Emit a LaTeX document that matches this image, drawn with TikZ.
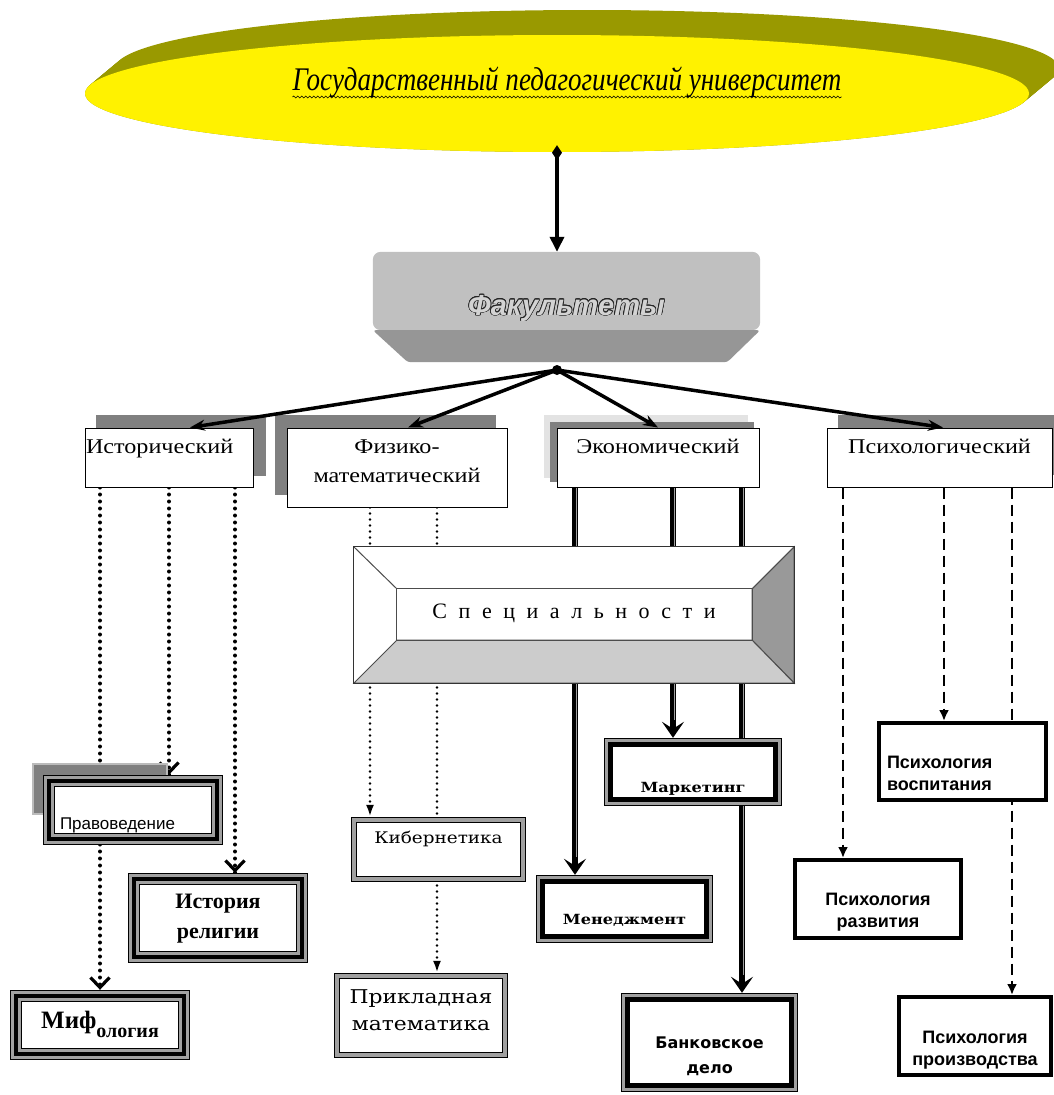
\documentclass[tikz,border=0pt]{standalone}
\usepackage{fontspec}
\setmainfont{Liberation Serif}
\newfontfamily\sansf{Liberation Sans}
\newfontfamily\facf[FakeStretch=1.15]{Liberation Serif}
\newfontfamily\slabf[FakeStretch=1.15]{DejaVu Serif}
\newfontfamily\geof{DejaVu Sans}
\newfontfamily\titlef[FakeStretch=0.82]{Liberation Serif}
\newfontfamily\specf[WordSpace=2.1]{Liberation Serif}
\usepackage{contour}
\contourlength{0.7pt}
\usetikzlibrary{arrows.meta,shapes.geometric,decorations.pathmorphing,decorations.markings}
\pgfdeclarelayer{back}\pgfdeclarelayer{bg}\pgfdeclarelayer{mid}
\pgfsetlayers{back,bg,mid,main}
\definecolor{olv}{HTML}{999900}
\definecolor{shd}{HTML}{808080}
\definecolor{lshd}{HTML}{E3E3E3}
\definecolor{facg}{HTML}{C0C0C0}
\definecolor{facd}{HTML}{969696}
\definecolor{frg}{HTML}{A0A0A0}
\definecolor{bevr}{HTML}{999999}
\definecolor{bevb}{HTML}{CCCCCC}
\newcommand\tframe[1]{%
 \draw[frg,line width=12pt] ([shift={(6pt,-6pt)}]#1.north west) rectangle ([shift={(-6pt,6pt)}]#1.south east);
 \draw[black,line width=4pt] ([shift={(6pt,-6pt)}]#1.north west) rectangle ([shift={(-6pt,6pt)}]#1.south east);
 \draw[black,line width=1pt] ([shift={(.5pt,-.5pt)}]#1.north west) rectangle ([shift={(-.5pt,.5pt)}]#1.south east);
 \draw[black,line width=1pt] ([shift={(11.5pt,-11.5pt)}]#1.north west) rectangle ([shift={(-11.5pt,11.5pt)}]#1.south east);}
\newcommand\dframe[1]{%
 \draw[frg,line width=6pt] ([shift={(3pt,-3pt)}]#1.north west) rectangle ([shift={(-3pt,3pt)}]#1.south east);
 \draw[black,line width=1pt] ([shift={(.5pt,-.5pt)}]#1.north west) rectangle ([shift={(-.5pt,.5pt)}]#1.south east);
 \draw[black,line width=1pt] ([shift={(5.5pt,-5.5pt)}]#1.north west) rectangle ([shift={(-5.5pt,5.5pt)}]#1.south east);}
\newcommand\mframe[1]{%
 \draw[frg,line width=9pt] ([shift={(4.5pt,-4.5pt)}]#1.north west) rectangle ([shift={(-4.5pt,4.5pt)}]#1.south east);
 \draw[black,line width=5pt] ([shift={(6.5pt,-6.5pt)}]#1.north west) rectangle ([shift={(-6.5pt,6.5pt)}]#1.south east);
 \draw[black,line width=1pt] ([shift={(.5pt,-.5pt)}]#1.north west) rectangle ([shift={(-.5pt,.5pt)}]#1.south east);}
\begin{document}
\begin{tikzpicture}[x=1pt,y=-1pt,
  fbox/.style={draw,line width=1pt,fill=white,inner sep=0pt,font=\facf\fontsize{21}{29}\selectfont},
  wbox/.style={fill=white,inner sep=0pt},
  pbox/.style={draw,line width=4pt,fill=white,inner sep=0pt,font=\sansf\bfseries\fontsize{18}{22}\selectfont},
  fa/.style={line width=3.5pt,-{Stealth[length=15pt,width=11pt]}},
  dotl/.style={line width=4pt,dash pattern=on 0pt off 7pt,line cap=round,
    postaction={decorate,decoration={markings,mark=at position 1 with {\pgfsetdash{}{0pt}\arrow{Straight Barb[length=10pt,width=19pt,line width=3.2pt]}}}}},
  dotp/.style={line width=2.8pt,dash pattern=on 0pt off 6pt,line cap=round,-{Latex[length=12pt,width=8pt]}},
  econ/.style={line width=6pt,-{Stealth[length=16pt,width=22pt,inset=7pt]}},
  econin/.style={line width=1pt,frg,shorten >=18pt},
  dsh/.style={line width=2.5pt,dash pattern=on 11pt off 6pt,-{Latex[length=11pt,width=10pt]}}
]
\begin{pgfonlayer}{back}
\fill[white] (0,0) rectangle (1054,1095);
\end{pgfonlayer}
\useasboundingbox (0,0) rectangle (1054,1095);

% university ellipse
\foreach \t in {0,1,...,20} \fill[olv] ({557+1.5*\t},{93.5-1.25*\t}) ellipse [x radius=472pt,y radius=58.5pt];
\node[ellipse,fill=yellow,minimum width=944pt,minimum height=117pt,inner sep=0pt] (univ) at (557,93.5) {};
\node[font=\titlef\itshape\fontsize{33}{33}\selectfont,inner sep=0pt,anchor=base] (title) at (567,90) {Государственный педагогический университет};
\draw[decorate,decoration={snake,amplitude=1pt,segment length=4pt},line width=.6pt] ([yshift=-7pt]title.base west) -- ([yshift=-7pt]title.base east);

% faculties header
\node[inner sep=0pt,minimum width=387pt,minimum height=110pt,text height=30pt,text depth=14pt,
  font=\sansf\bfseries\itshape\fontsize{29}{29}\selectfont,text=facg!70!white] (fac) at (566.5,307) {\contour{black!85}{Факультеты}};
\begin{pgfonlayer}{mid}
\fill[facg,rounded corners=8pt] (fac.north west) rectangle ([yshift=32pt]fac.south east);
\fill[facd,rounded corners=3pt] ([yshift=32pt]fac.south west) -- ([yshift=32pt]fac.south east) -- ([xshift=-33pt]fac.south east) -- ([xshift=35pt]fac.south west) -- cycle;
\end{pgfonlayer}
\coordinate (J) at (557,370);
\fill (J) circle (5pt);

% faculty boxes
\fill[shd] (96,415) rectangle (266,476);
\fill[shd] (275,415) rectangle (496,495);
\fill[lshd] (544,415) rectangle (748,478);
\fill[shd] (550,422) rectangle (754,482);
\fill[shd] (838,415) rectangle (1054,475);
\node[fbox,minimum width=168pt,minimum height=59pt,text width=166pt,align=left,inner xsep=1pt,text height=20pt,text depth=29pt] (hist) at (169,457.5) {Исторический};
\node[fbox,minimum width=220pt,minimum height=79pt,align=center,text height=49pt,text depth=20pt] (phys) at (397,467.5) {Физико-\\математический};
\node[fbox,minimum width=202pt,minimum height=59pt,text height=20pt,text depth=29pt] (econ) at (658,457.5) {Экономический};
\node[fbox,minimum width=225pt,minimum height=59pt,text height=20pt,text depth=29pt] (psych) at (939.5,457.5) {Психологический};

% specialties
\node[inner sep=0pt,minimum width=440pt,minimum height=136pt,text height=20pt,text depth=14pt,font=\specf\fontsize{22}{22}\selectfont] (spec) at (574,615) {С п е ц и а л ь н о с т и};
\begin{pgfonlayer}{mid}
\filldraw[fill=white,draw=black!80,line width=1.2pt] (spec.north west) rectangle (spec.south east);
\coordinate (nwi) at ([shift={(43pt,-42pt)}]spec.north west);
\coordinate (nei) at ([shift={(-42pt,-42pt)}]spec.north east);
\coordinate (swi) at ([shift={(43pt,43pt)}]spec.south west);
\coordinate (sei) at ([shift={(-42pt,43pt)}]spec.south east);
\filldraw[fill=bevr,draw=black!70,line width=1pt] (spec.north east) -- (spec.south east) -- (sei) -- (nei) -- cycle;
\filldraw[fill=bevb,draw=black!70,line width=1pt] (spec.south west) -- (spec.south east) -- (sei) -- (swi) -- cycle;
\draw[black!70,line width=1pt] (spec.north west) -- (nwi) (spec.north east) -- (nei);
\draw[black!70,line width=1.2pt] (nwi) rectangle (sei);
\draw[black!80,line width=1.2pt] (spec.north west) rectangle (spec.south east);
\end{pgfonlayer}

% history specialties
\filldraw[fill=shd,draw=lshd!60!gray,line width=1.5pt] (33,764) rectangle (167,814);
\node[wbox,minimum width=180pt,minimum height=70pt,text width=146pt,align=left,inner xsep=17pt,text height=50pt,text depth=12pt,font=\sansf\fontsize{17}{17}\selectfont] (prav) at (133,810) {Правоведение};
\tframe{prav}
\node[wbox,minimum width=180pt,minimum height=90pt,align=center,text height=55pt,text depth=15pt,font=\bfseries\fontsize{22}{30}\selectfont] (hrel) at (218,918) {История\\религии};
\tframe{hrel}
\node[wbox,minimum width=180pt,minimum height=70pt,text height=24pt,text depth=18pt,font=\bfseries] (myth) at (100,1025) {{\fontsize{25}{25}\selectfont Миф}\raisebox{-9pt}{\fontsize{20}{20}\selectfont ология}};
\tframe{myth}

% physics specialties
\node[wbox,minimum width=175pt,minimum height=65pt,text height=18pt,text depth=31pt,font=\slabf\fontsize{16}{16}\selectfont] (kib) at (438.5,849.5) {Кибернетика};
\dframe{kib}
\node[wbox,minimum width=174pt,minimum height=85pt,align=center,text height=50pt,text depth=21pt,font=\slabf\fontsize{19}{27}\selectfont] (prikl) at (421,1015.5) {Прикладная\\математика};
\dframe{prikl}

% economics specialties
\node[wbox,minimum width=178pt,minimum height=68pt,text height=50pt,text depth=10pt,font=\slabf\bfseries\fontsize{14}{14}\selectfont] (market) at (693,772) {Маркетинг};
\mframe{market}
\node[wbox,minimum width=177pt,minimum height=68pt,text height=45pt,text depth=15pt,font=\slabf\bfseries\fontsize{14}{14}\selectfont] (mened) at (624.5,909) {Менеджмент};
\mframe{mened}
\node[wbox,minimum width=177pt,minimum height=99pt,align=center,text height=75pt,text depth=14pt,font=\geof\bfseries\fontsize{16}{25}\selectfont] (bank) at (709.5,1042.5) {Банковское\\дело};
\mframe{bank}

% psychology specialties
\node[pbox,minimum width=167pt,minimum height=77pt,text width=151pt,align=left,inner xsep=6pt,text height=30pt,text depth=17pt] (vosp) at (962.5,761.5) {Психология\\воспитания};
\node[pbox,minimum width=166pt,minimum height=78pt,align=center,text height=65pt,text depth=9pt] (razv) at (878,899) {Психология\\развития};
\node[pbox,minimum width=152pt,minimum height=78pt,align=center,text height=66pt,text depth=8pt] (proizv) at (975,1036) {Психология\\производства};

% connectors behind boxes
\begin{pgfonlayer}{bg}
\draw[dotl] (hist.south -| myth.north) -- (myth.north);
\draw[dotl] (hist.south) -- (hist.south |- prav.north);
\draw[dotl] ([xshift=66pt]hist.south) -- ([xshift=66pt]hist.south |- hrel.north);
\draw[dotp] ([xshift=-27pt]phys.south) -- ([xshift=-27pt]phys.south |- kib.north);
\draw[dotp] ([xshift=40pt]phys.south) -- ([xshift=40pt]phys.south |- prikl.north);
\draw[econ] ([xshift=-83pt]econ.south) -- ([xshift=-83pt]econ.south |- mened.north);
\draw[econin] ([xshift=-82pt]econ.south) -- ([xshift=-82pt]econ.south |- mened.north);
\draw[econ] ([xshift=15pt]econ.south) -- ([xshift=15pt]econ.south |- market.north);
\draw[econin] ([xshift=16pt]econ.south) -- ([xshift=16pt]econ.south |- market.north);
\draw[econ] ([xshift=84pt]econ.south) -- ([xshift=84pt]econ.south |- bank.north);
\draw[econin] ([xshift=85pt]econ.south) -- ([xshift=85pt]econ.south |- bank.north);
\draw[dsh] ([xshift=-96.5pt]psych.south) -- ([xshift=-96.5pt]psych.south |- razv.north);
\draw[dsh] ([xshift=4.5pt]psych.south) -- ([xshift=4.5pt]psych.south |- vosp.north);
\draw[dsh] ([xshift=72.5pt]psych.south) -- ([xshift=72.5pt]psych.south |- proizv.north);
\end{pgfonlayer}

% connectors on top
\draw[line width=3.5pt,{Diamond[length=15pt,width=10pt]}-{Triangle[length=15pt,width=14pt]}] ([yshift=7pt]univ.south) -- (univ.south |- fac.north);
\draw[fa] (J) -- ([xshift=21pt]hist.north);
\draw[fa] (J) -- ([xshift=11pt]phys.north);
\draw[fa] (J) -- (econ.north);
\draw[fa] (J) -- ([xshift=3.5pt]psych.north);
\end{tikzpicture}
\end{document}
